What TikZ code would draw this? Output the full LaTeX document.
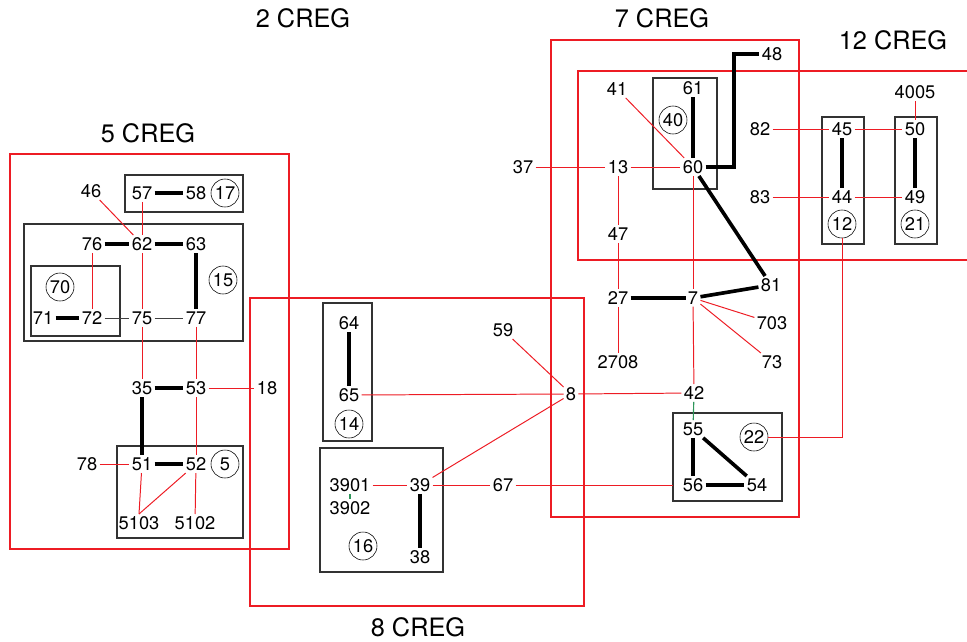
\documentclass[tikz,border=0pt]{standalone}
\usepackage{fontspec}
\setmainfont{TeX Gyre Heros}
\usetikzlibrary{positioning}
\definecolor{cregred}{RGB}{237,28,36}
\definecolor{linkgreen}{RGB}{46,150,90}

\begin{document}
\begin{tikzpicture}[x=0.025cm, y=-0.025cm,
    bus/.style={inner sep=1.5pt, font=\fontsize{13}{15}\selectfont},
    zone/.style={draw, circle, minimum size=0.7cm, inner sep=0pt,
                 font=\fontsize{13}{15}\selectfont},
    cregtitle/.style={font=\fontsize{18}{20}\selectfont},
    creg/.style={draw=cregred, line width=2pt},
    grp/.style={draw=black!80, line width=0.9pt},
    tie/.style={line width=2.6pt},
    br/.style={draw=cregred, line width=0.7pt},
    gl/.style={draw=linkgreen, line width=0.8pt},
    kl/.style={draw=black!75, line width=0.7pt}
  ]
  \useasboundingbox (0,0) rectangle (967,641);

  \draw[creg] (10,154) rectangle (289,549);
  \draw[creg] (250,298) rectangle (584,606);
  \draw[creg] (551,40) rectangle (799,517);
  \draw[creg] (967,71) -- (578,71) -- (578,260) -- (967,260);

  \draw[grp] (125,175) rectangle (243,212);
  \draw[grp] (24,224) rectangle (243,341);
  \draw[grp] (31,266) rectangle (120,336);
  \draw[grp] (117,446) rectangle (243,538);
  \draw[grp] (323,303) rectangle (372,441);
  \draw[grp] (320,448) rectangle (443,572);
  \draw[grp] (653,78) rectangle (717,189);
  \draw[grp] (822,117) rectangle (864,244);
  \draw[grp] (895,117) rectangle (937,244);
  \draw[grp] (673,413) rectangle (782,501);

  \node[cregtitle] (t2)  at (303,18)  {2 CREG};
  \node[cregtitle] (t7)  at (662,18)  {7 CREG};
  \node[cregtitle] (t12) at (893,40)  {12 CREG};
  \node[cregtitle] (t5)  at (148,133) {5 CREG};
  \node[cregtitle] (t8)  at (418,627) {8 CREG};

  \node[bus] (n46)   at (91,191)  {46};
  \node[bus] (n57)   at (142,193) {57};
  \node[bus] (n58)   at (196,193) {58};
  \node[zone] (c17)  at (225,193) {17};
  \node[bus] (n76)   at (92,244)  {76};
  \node[bus] (n62)   at (142,244) {62};
  \node[bus] (n63)   at (196,244) {63};
  \node[zone] (c15)  at (223,280) {15};
  \node[zone] (c70)  at (60,287)  {70};
  \node[bus] (n71)   at (43,318)  {71};
  \node[bus] (n72)   at (92,318)  {72};
  \node[bus] (n75)   at (142,318) {75};
  \node[bus] (n77)   at (196,318) {77};
  \node[bus] (n35)   at (142,388) {35};
  \node[bus] (n53)   at (196,388) {53};
  \node[bus] (n18)   at (267,388) {18};
  \node[bus] (n78)   at (87,464)  {78};
  \node[bus] (n51)   at (142,464) {51};
  \node[bus] (n52)   at (196,464) {52};
  \node[zone] (c5)   at (225,464) {5};
  \node[bus] (n5103) at (139,523) {5103};
  \node[bus] (n5102) at (195,523) {5102};

  \node[bus] (n64)   at (349,323) {64};
  \node[bus] (n65)   at (349,395) {65};
  \node[zone] (c14)  at (349,424) {14};
  \node[bus] (n59)   at (503,330) {59};
  \node[bus] (n8)    at (571,394) {8};
  \node[bus] (n3901) at (350,485) {3901};
  \node[bus] (n3902) at (350,508) {3902};
  \node[bus] (n39)   at (420,485) {39};
  \node[bus] (n67)   at (503,485) {67};
  \node[zone] (c16)  at (363,546) {16};
  \node[bus] (n38)   at (420,557) {38};

  \node[bus] (n48)   at (772,54)  {48};
  \node[bus] (n41)   at (617,89)  {41};
  \node[bus] (n61)   at (693,88)  {61};
  \node[zone] (c40)  at (673,120) {40};
  \node[bus] (n60)   at (693,167) {60};
  \node[bus] (n37)   at (523,167) {37};
  \node[bus] (n13)   at (618,167) {13};
  \node[bus] (n82)   at (760,129) {82};
  \node[bus] (n45)   at (842,129) {45};
  \node[bus] (n50)   at (915,129) {50};
  \node[bus] (n4005) at (915,92)  {4005};
  \node[bus] (n83)   at (760,197) {83};
  \node[bus] (n44)   at (842,197) {44};
  \node[bus] (n49)   at (915,197) {49};
  \node[zone] (c12)  at (842,224) {12};
  \node[zone] (c21)  at (915,224) {21};
  \node[bus] (n47)   at (618,234) {47};
  \node[bus] (n27)   at (618,298) {27};
  \node[bus] (n7)    at (693,298) {7};
  \node[bus] (n81)   at (771,285) {81};
  \node[bus] (n703)  at (772,323) {703};
  \node[bus] (n73)   at (772,362) {73};
  \node[bus] (n2708) at (618,362) {2708};
  \node[bus] (n42)   at (694,393) {42};
  \node[bus] (n55)   at (693,429) {55};
  \node[zone] (c22)  at (754,437) {22};
  \node[bus] (n56)   at (693,485) {56};
  \node[bus] (n54)   at (757,485) {54};

  \coordinate (k48) at (734,54);
  \coordinate (e67) at (673,485);

  \draw[tie] (n57) -- (n58);
  \draw[tie] (n76) -- (n62);
  \draw[tie] (n62) -- (n63);
  \draw[tie] (n63) -- (n77);
  \draw[tie] (n71) -- (n72);
  \draw[tie] (n35) -- (n53);
  \draw[tie] (n35) -- (n51);
  \draw[tie] (n51) -- (n52);
  \draw[br] (n57) -- (n62);
  \draw[br] (n46) -- (n62);
  \draw[br] (n76) -- (n72);
  \draw[br] (n62) -- (n75);
  \draw[kl] (n72) -- (n75);
  \draw[kl] (n75) -- (n77);
  \draw[br] (n75) -- (n35);
  \draw[br] (n77) -- (n53);
  \draw[br] (n53) -- (n18);
  \draw[br] (n53) -- (n52);
  \draw[br] (n78) -- (n51);
  \draw[br] (n51) -- (n5103.north);
  \draw[br] (n52) -- (n5103.north);
  \draw[br] (n52) -- (n5102);

  \draw[tie] (n64) -- (n65);
  \draw[tie] (n39) -- (n38);
  \draw[br] (n65) -- (n8);
  \draw[br] (n59) -- (n8);
  \draw[br] (n8) -- (n39);
  \draw[br] (n3901) -- (n39);
  \draw[gl] (n3901) -- (n3902);
  \draw[br] (n39) -- (n67);
  \draw[br] (n67) -- (e67);
  \draw[br] (n8) -- (n42);

  \draw[tie] (n61) -- (n60);
  \draw[tie] (n60) -| (k48) -- (n48);
  \draw[tie] (n60) -- (n81);
  \draw[tie] (n27) -- (n7);
  \draw[tie] (n7) -- (n81);
  \draw[tie] (n45) -- (n44);
  \draw[tie] (n50) -- (n49);
  \draw[tie] (n55) -- (n56);
  \draw[tie] (n55) -- (n54);
  \draw[tie] (n56) -- (n54);
  \draw[br] (n41) -- (n60);
  \draw[br] (n37) -- (n13);
  \draw[br] (n13) -- (n60);
  \draw[br] (n13) -- (n47);
  \draw[br] (n47) -- (n27);
  \draw[br] (n27) -- (n2708);
  \draw[br] (n60) -- (n7);
  \draw[br] (n7) -- (n703);
  \draw[br] (n7) -- (n73);
  \draw[br] (n7) -- (n42);
  \draw[gl] (n42) -- (n55);
  \draw[br] (n82) -- (n45);
  \draw[br] (n45) -- (n50);
  \draw[br] (n83) -- (n44);
  \draw[br] (n44) -- (n49);
  \draw[br] (n4005) -- (n50);
  \draw[br] (c12) |- (c22);
\end{tikzpicture}
\end{document}
